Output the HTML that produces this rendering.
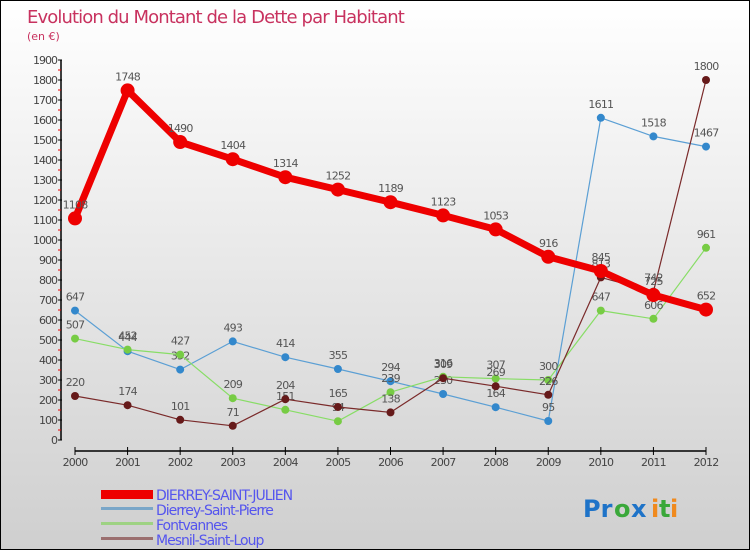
<!DOCTYPE html>
<html><head><meta charset="utf-8"><style>
html,body{margin:0;padding:0;}
body{width:750px;height:550px;overflow:hidden;font-family:"DejaVu Sans","Liberation Sans",sans-serif;}
#wrap{position:relative;width:748px;height:548px;border:1px solid #000;background:linear-gradient(#ffffff,#cfcfcf);}
svg text{font-family:"DejaVu Sans","Liberation Sans",sans-serif;}
</style></head><body>
<div id="wrap">
<svg id="chart" width="748" height="548">
<text x="26" y="22" font-size="18" fill="#c8325f" style="letter-spacing:-0.9px">Evolution du Montant de la Dette par Habitant</text>
<text x="26" y="39" font-size="11" fill="#c8325f">(en €)</text>
<g id="axes"></g><g id="series"></g>
<g>
<rect x="100" y="489" width="52" height="9" fill="#e00"/>
<text x="155" y="499" font-size="14" fill="#5555ee" style="letter-spacing:-1px">DIERREY-SAINT-JULIEN</text>
<rect x="100" y="506" width="52" height="3" fill="#7aa6c8"/>
<text x="155" y="514" font-size="14" fill="#5555ee" style="letter-spacing:-1px">Dierrey-Saint-Pierre</text>
<rect x="100" y="521" width="52" height="3" fill="#9ed283"/>
<text x="155" y="529" font-size="14" fill="#5555ee" style="letter-spacing:-1px">Fontvannes</text>
<rect x="100" y="536" width="52" height="3" fill="#9b6f6f"/>
<text x="155" y="544" font-size="14" fill="#5555ee" style="letter-spacing:-1px">Mesnil-Saint-Loup</text>
</g>
<g font-size="24" font-weight="bold">
<text x="582" y="516" fill="#1e73c8">Pr</text><text x="613" y="516" fill="#3aa83a">o</text><text x="630" y="516" fill="#1e73c8">x</text><text x="650" y="516" fill="#f08a1e">i</text><text x="658" y="516" fill="#3aa83a">t</text><text x="669" y="516" fill="#f08a1e">i</text>
</g>
</svg></div>
<script>
const years=[2000,2001,2002,2003,2004,2005,2006,2007,2008,2009,2010,2011,2012];
const yTicks=[0,100,200,300,400,500,600,700,800,900,1000,1100,1200,1300,1400,1500,1600,1700,1800,1900];
const dsj=[1108,1748,1490,1404,1314,1252,1189,1123,1053,916,845,725,652];
const dsp=[647,444,352,493,414,355,294,230,164,95,1611,1518,1467];
const fon=[507,452,427,209,151,94,239,316,307,300,647,606,961];
const msl=[220,174,101,71,204,165,138,309,269,226,813,742,1800];
const NS="http://www.w3.org/2000/svg";
const x0=74,x1=705,y0=439,yPer=0.2;
function xs(i){return x0+i*(x1-x0)/(years.length-1);}
function ys(v){return y0-v*yPer;}
function mk(t,a,p){const e=document.createElementNS(NS,t);for(const k in a)e.setAttribute(k,a[k]);p.appendChild(e);return e;}
const ax=document.getElementById('axes');
const yl=mk('line',{x1:60,y1:ys(1900),x2:60,y2:y0,stroke:'#000','stroke-width':1.5},ax);


yTicks.forEach(v=>{
 mk('line',{x1:57,y1:ys(v),x2:61,y2:ys(v),stroke:'#000'},ax);
 if(v<1900) mk('line',{x1:57,y1:ys(v+50),x2:60,y2:ys(v+50),stroke:'#e00'},ax);
 const t=mk('text',{x:56,y:ys(v)+4,'font-size':11,fill:'#444','text-anchor':'end','letter-spacing':'-1'},ax);
 t.textContent=v;
 
 
});
const xl=mk('line',{x1:xs(0),y1:450,x2:xs(12),y2:450,stroke:'#000','stroke-width':1.5},ax);


years.forEach((yr,i)=>{
 mk('line',{x1:xs(i),y1:446,x2:xs(i),y2:454,stroke:'#000'},ax);
 const t=mk('text',{x:xs(i),y:465,'font-size':11,fill:'#444','text-anchor':'middle','letter-spacing':'-0.8'},ax);
 t.textContent=yr;
 
 
});
const sg=document.getElementById('series');
function draw(vals,color,w,r,name,dot){
 const g=mk('g',{},sg);
 
 
 mk('polyline',{points:vals.map((v,i)=>xs(i)+','+ys(v)).join(' '),fill:'none',stroke:color,'stroke-width':w,'stroke-linejoin':'round'},g);
 vals.forEach((v,i)=>{
  const c=mk('circle',{cx:xs(i),cy:ys(v),r:r,fill:dot},g);
  
  
  const t=mk('text',{x:xs(i),y:ys(v)-10,'font-size':11,fill:'#555','text-anchor':'middle','letter-spacing':'-0.8'},g);
  t.textContent=v;
  
  
 });
}
draw(dsp,'#5b9fd4',1.2,4,'dierrey-saint-pierre','#3388cc');
draw(fon,'#88dd66',1.2,4,'fontvannes','#77cc44');
draw(msl,'#7a2a2a',1.2,4,'mesnil-saint-loup','#661a1a');
draw(dsj,'#ee0000',7,7,'dierrey-saint-julien','#ee0000');
</script>
</body></html>
